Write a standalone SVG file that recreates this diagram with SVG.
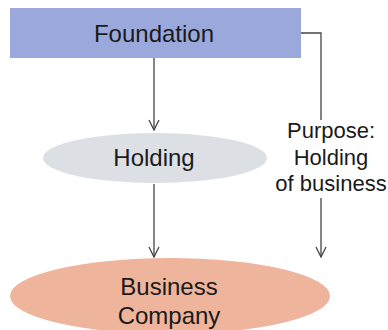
<svg xmlns="http://www.w3.org/2000/svg" width="388" height="330" viewBox="0 0 388 330">
<defs>
<style>
text{font-family:"Liberation Sans",Arial,sans-serif;fill:#1a1a1a;text-anchor:middle}
.n{font-size:24px}
.l{font-size:22px}
.c{fill:none;stroke:#444;stroke-width:1.3}
</style>
<marker id="ah" viewBox="0 0 12 12" refX="11" refY="6" markerWidth="12" markerHeight="12" markerUnits="userSpaceOnUse" orient="auto">
<path d="M1,1 L11,6 L1,11" fill="none" stroke="#444" stroke-width="1.3"/>
</marker>
</defs>
<rect width="388" height="330" fill="#fff"/>
<g id="connectors">
<path class="c" d="M154,58 V130" marker-end="url(#ah)"/>
<path class="c" d="M154,184 V257" marker-end="url(#ah)"/>
<path class="c" d="M301,33 H321 V120"/>
<path class="c" d="M321,198 V257" marker-end="url(#ah)"/>
</g>
<g id="foundation">
<rect x="10" y="8" width="291" height="50" fill="#9aa8dc"/>
<text class="n" x="154" y="42">Foundation</text>
</g>
<g id="holding">
<ellipse cx="155" cy="158" rx="112" ry="25" fill="#dcdfe4"/>
<text class="n" x="154" y="166">Holding</text>
</g>
<g id="business">
<ellipse cx="170" cy="296" rx="160" ry="38" fill="#efb49c"/>
<text class="n" x="169" y="295">Business</text>
<text class="n" x="169" y="324">Company</text>
</g>
<g id="purpose">
<text class="l" x="331" y="138">Purpose:</text>
<text class="l" x="331" y="165">Holding</text>
<text class="l" x="331" y="191">of business</text>
</g>
</svg>
